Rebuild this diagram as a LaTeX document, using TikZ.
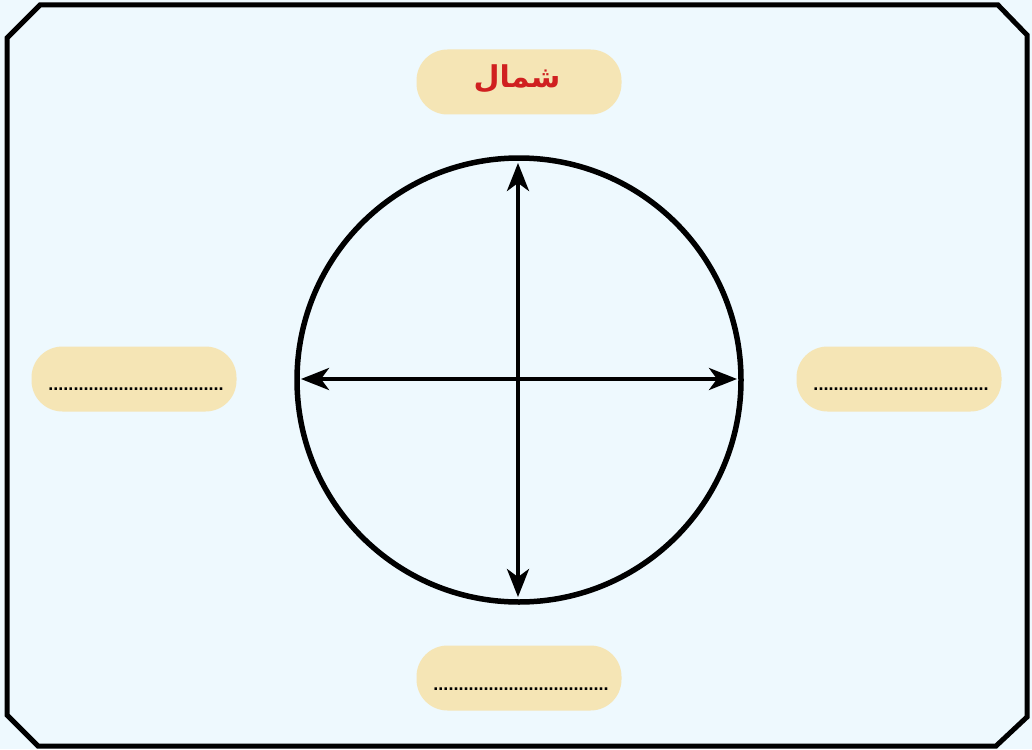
\documentclass[tikz,border=0pt]{standalone}
\usepackage{fontspec}
\setmainfont{Liberation Sans}
\newfontfamily\arabicfont[Script=Arabic]{DejaVu Sans}
\TeXXeTstate=1
\usetikzlibrary{arrows.meta}
\definecolor{bgblue}{HTML}{EEF9FE}
\definecolor{pill}{HTML}{F5E5B5}
\definecolor{labelred}{HTML}{D02020}
\tikzset{
  pillbox/.style={fill=pill, rounded corners=31pt, minimum width=205pt, minimum height=65pt, inner sep=0pt},
  axis/.style={line width=4pt, {Stealth[length=28pt,width=22pt,inset=8pt]}-{Stealth[length=28pt,width=22pt,inset=8pt]}},
  dotsline/.style={font=\bfseries\fontsize{18}{18}\selectfont}
}
\begin{document}
\begin{tikzpicture}[x=1pt,y=-1pt]
\useasboundingbox (0,0) rectangle (1032,749);
\fill[bgblue] (0,0) rectangle (1032,749);
% frame
\draw[line width=5pt, line join=miter]
  (40,5) -- (998,5) -- (1027,35) -- (1027,717) -- (996,746) -- (38,746) -- (7,715) -- (7,38) -- cycle;
% circle
\node[draw, circle, line width=5.5pt, minimum size=444pt, inner sep=0pt] (c) at (519,380) {};
\coordinate (n) at (518,163);
\coordinate (s) at (518,597);
\coordinate (w) at (301,379);
\coordinate (e) at (737,379);
\draw[axis] (s) -- (n);
\draw[axis] (w) -- (e);
% labels
\node[pillbox] (north) at (519,82) {};
\node[text=labelred, font=\arabicfont\bfseries\fontsize{30}{32}\selectfont] (northtext) at (517,79) {\beginR شمال\endR};
\node[pillbox] (west) at (134,379) {};
\node[dotsline, anchor=base] (westtext) at (136,390) {\textbf{...................................}};
\node[pillbox] (east) at (899,379) {};
\node[dotsline, anchor=base] (easttext) at (901,390) {\textbf{...................................}};
\node[pillbox] (south) at (519,678) {};
\node[dotsline, anchor=base] (southtext) at (521,690) {\textbf{...................................}};
\end{tikzpicture}
\end{document}
